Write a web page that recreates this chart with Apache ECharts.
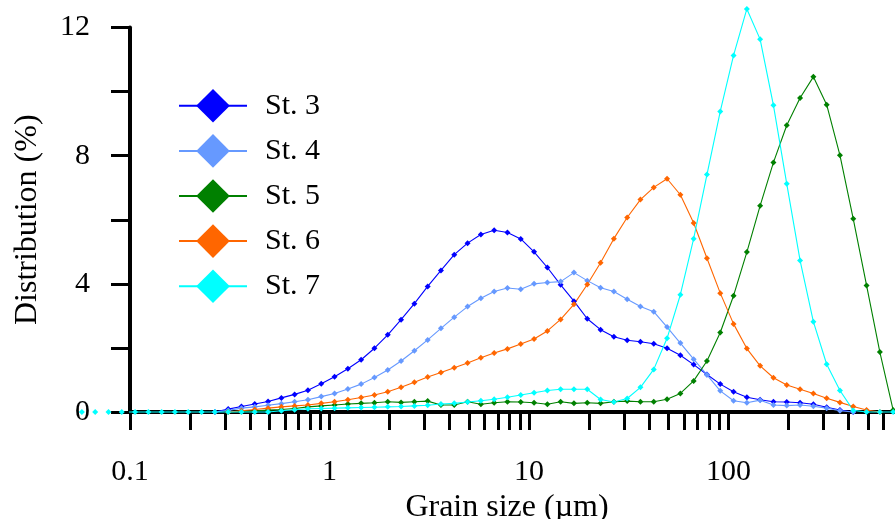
<!DOCTYPE html>
<html>
<head>
<meta charset="utf-8">
<script src="https://cdn.jsdelivr.net/npm/echarts@6/dist/echarts.min.js"></script>
<style>
html,body{margin:0;padding:0;background:#fff;}
#chart{width:895px;height:519px;}
</style>
</head>
<body>
<div id="chart"></div>
<script>
// Grain sizes (µm), channel centres
const sizes = [0.0574, 0.0669, 0.078, 0.0909, 0.106, 0.1236, 0.1441, 0.168, 0.1959, 0.2284,
  0.2663, 0.3105, 0.362, 0.422, 0.492, 0.5737, 0.6688, 0.7798, 0.9092, 1.06,
  1.236, 1.441, 1.68, 1.959, 2.284, 2.663, 3.105, 3.62, 4.22, 4.921,
  5.737, 6.689, 7.799, 9.093, 10.6, 12.36, 14.41, 16.8, 19.59, 22.84,
  26.63, 31.05, 36.2, 42.2, 49.21, 57.37, 66.89, 77.99, 90.93, 106,
  123.6, 144.1, 168, 195.9, 228.4, 266.3, 310.5, 362, 422, 492.1,
  573.7, 668.9];

const seriesNames = ['St. 3', 'St. 4', 'St. 5', 'St. 6', 'St. 7'];

const st3 = [null, null, null, null, null, null, null, null, null, null,
  0, 0.09, 0.17, 0.25, 0.33, 0.44, 0.55, 0.68, 0.88, 1.10,
  1.35, 1.63, 1.99, 2.41, 2.88, 3.38, 3.92, 4.42, 4.91, 5.27,
  5.54, 5.67, 5.60, 5.40, 5.00, 4.51, 3.97, 3.46, 2.91, 2.57,
  2.35, 2.24, 2.19, 2.13, 1.99, 1.77, 1.48, 1.17, 0.87, 0.63,
  0.46, 0.38, 0.32, 0.31, 0.29, 0.24, 0.15, 0.06, 0, null,
  null, null];

const st4 = [null, null, null, null, null, null, null, null, null, null,
  0, 0.05, 0.12, 0.16, 0.21, 0.26, 0.32, 0.38, 0.48, 0.58,
  0.72, 0.87, 1.08, 1.31, 1.59, 1.91, 2.25, 2.61, 2.96, 3.29,
  3.55, 3.76, 3.87, 3.83, 4.00, 4.04, 4.07, 4.35, 4.10, 3.88,
  3.76, 3.52, 3.29, 3.13, 2.65, 2.15, 1.65, 1.16, 0.66, 0.35,
  0.29, 0.37, 0.22, 0.20, 0.22, 0.18, 0.12, 0.04, 0, null,
  null, null];

const st5 = [null, null, null, null, null, null, null, null, null, null,
  null, 0, 0.02, 0.04, 0.06, 0.08, 0.11, 0.16, 0.19, 0.22,
  0.25, 0.27, 0.29, 0.32, 0.30, 0.32, 0.34, 0.22, 0.22, 0.32,
  0.24, 0.29, 0.32, 0.31, 0.29, 0.24, 0.32, 0.27, 0.29, 0.27,
  0.32, 0.34, 0.32, 0.32, 0.40, 0.58, 0.97, 1.59, 2.48, 3.63,
  4.99, 6.44, 7.79, 8.95, 9.80, 10.46, 9.59, 8.01, 6.03, 3.95,
  1.87, 0.06];

const st6 = [null, null, null, null, null, null, null, null, null, null,
  null, 0, 0.04, 0.08, 0.12, 0.16, 0.19, 0.22, 0.27, 0.32,
  0.38, 0.45, 0.53, 0.63, 0.77, 0.93, 1.09, 1.23, 1.38, 1.53,
  1.69, 1.84, 1.97, 2.12, 2.28, 2.53, 2.89, 3.36, 3.98, 4.66,
  5.41, 6.07, 6.63, 7.01, 7.28, 6.78, 5.90, 4.80, 3.71, 2.75,
  1.98, 1.44, 1.07, 0.84, 0.71, 0.58, 0.43, 0.30, 0.17, 0.06,
  0, null];

const st7 = [0, 0, 0, 0, 0, 0, 0, 0, 0, 0,
  0, 0, 0, 0, 0, 0.04, 0.07, 0.10, 0.11, 0.12,
  0.13, 0.14, 0.15, 0.16, 0.17, 0.19, 0.21, 0.25, 0.27, 0.31,
  0.35, 0.40, 0.46, 0.53, 0.60, 0.67, 0.71, 0.71, 0.71, 0.39,
  0.31, 0.42, 0.77, 1.33, 2.30, 3.66, 5.41, 7.41, 9.38, 11.13,
  12.58, 11.63, 9.57, 7.12, 4.73, 2.82, 1.49, 0.67, 0.05, 0,
  0, 0];

const colors = ['#0000ff', '#6699ff', '#008000', '#ff6600', '#00ffff'];

const xTickValues = [0.1, 0.2, 0.3, 0.4, 0.5, 0.6, 0.7, 0.8, 0.9,
  1, 2, 3, 4, 5, 6, 7, 8, 9,
  10, 20, 30, 40, 50, 60, 70, 80, 90,
  100, 200, 300, 400, 500, 600, 700, 800, 900, 1000];
const xLabelValues = [0.1, 1, 10, 100];
const yLabelValues = [0, 4, 8, 12];

const FONT = '"Liberation Serif", "Times New Roman", serif';

function pairs(vals) {
  const out = [];
  for (let i = 0; i < sizes.length; i++) {
    if (vals[i] !== null) out.push([sizes[i], vals[i]]);
  }
  return out;
}

const allValues = [st3, st4, st5, st6, st7];

const chart = echarts.init(document.getElementById('chart'), null, {renderer: 'canvas'});
chart.setOption({
  animation: false,
  backgroundColor: '#ffffff',
  grid: {left: 130, top: 27.5, width: 798, height: 384.5, containLabel: false, outerBoundsMode: 'none'},
  legend: {
    orient: 'vertical',
    left: 178,
    top: 89,
    padding: 0,
    itemWidth: 68,
    itemHeight: 42,
    itemGap: 11.5,
    data: seriesNames,
    textStyle: {fontFamily: FONT, fontSize: 30, color: '#000', padding: [0, 0, 0, 13]}
  },
  xAxis: {
    type: 'log',
    logBase: 10,
    min: 0.1,
    max: 1000,
    name: 'Grain size (µm)',
    nameLocation: 'middle',
    nameGap: 75,
    nameTextStyle: {fontFamily: FONT, fontSize: 32, color: '#000', padding: [0, 44, 0, 0]},
    axisLine: {onZero: false, lineStyle: {color: '#000', width: 4}},
    axisTick: {show: true, inside: false, length: 18, customValues: xTickValues, lineStyle: {color: '#000', width: 3}},
    axisLabel: {customValues: xLabelValues, margin: 45, fontFamily: FONT, fontSize: 30, color: '#000',
      formatter: function (v) { return String(v); }},
    splitLine: {show: false},
    minorTick: {show: false}
  },
  yAxis: {
    type: 'value',
    min: 0,
    max: 12,
    interval: 2,
    name: 'Distribution (%)',
    nameLocation: 'middle',
    nameGap: 86,
    nameRotate: 90,
    nameTextStyle: {fontFamily: FONT, fontSize: 32, color: '#000'},
    axisLine: {show: true, onZero: false, lineStyle: {color: '#000', width: 4}},
    axisTick: {show: true, inside: false, length: 19, lineStyle: {color: '#000', width: 3}},
    axisLabel: {customValues: yLabelValues, margin: 40, fontFamily: FONT, fontSize: 30, color: '#000'},
    splitLine: {show: false}
  },
  series: seriesNames.map(function (name, i) {
    return {
      name: name,
      type: 'line',
      data: pairs(allValues[i]),
      clip: false,
      symbol: 'diamond',
      symbolSize: 6,
      showSymbol: true,
      color: colors[i],
      itemStyle: {color: colors[i]},
      lineStyle: {color: colors[i], width: 1.1},
      emphasis: {disabled: true}
    };
  })
});
</script>
</body>
</html>
